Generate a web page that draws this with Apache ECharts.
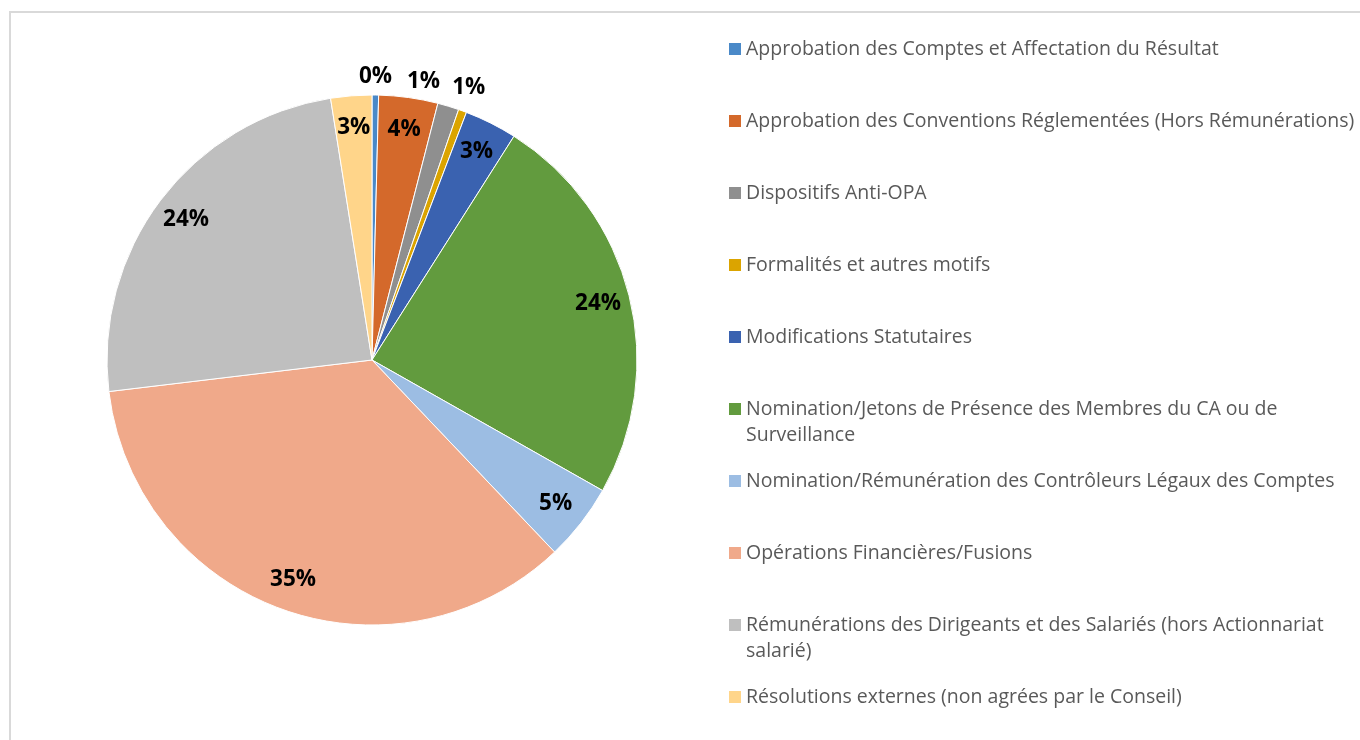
<!DOCTYPE html>
<html>
<head>
    <meta charset="UTF-8">
    <title>Répartition des résolutions</title>
    <script src="https://cdn.jsdelivr.net/npm/echarts@6/dist/echarts.min.js"></script>
    <style type="text/css">
        html, body, #main {
            height: 100%;
            width: 100%;
            margin: 0;
            padding: 0;
            background: #ffffff;
        }
    </style>
</head>
<body>
<div id="main"></div>
<script type="text/javascript">
    // catégories de résolutions (ordre Excel, sens horaire depuis midi)
    var categories = [
        'Approbation des Comptes et Affectation du Résultat',
        'Approbation des Conventions Réglementées (Hors Rémunérations)',
        'Dispositifs Anti-OPA',
        'Formalités et autres motifs',
        'Modifications Statutaires',
        'Nomination/Jetons de Présence des Membres du CA ou de Surveillance',
        'Nomination/Rémunération des Contrôleurs Légaux des Comptes',
        'Opérations Financières/Fusions',
        'Rémunérations des Dirigeants et des Salariés (hors Actionnariat salarié)',
        'Résolutions externes (non agrées par le Conseil)'
    ];
    // parts estimées (%)
    var shares = [0.4, 3.6, 1.3, 0.5, 3.2, 24.2, 4.7, 35.2, 24.4, 2.5];
    var colors = ['#4a89c8', '#d4692b', '#8f8f8f', '#dba400', '#3a62b0',
        '#629b3e', '#9cbde3', '#f0a98a', '#bfbfbf', '#ffd58a'];
    // petites parts dont l'étiquette est posée hors du camembert
    var outsideLabels = [
        'Approbation des Comptes et Affectation du Résultat',
        'Dispositifs Anti-OPA',
        'Formalités et autres motifs'
    ];
    // retours à la ligne de la légende
    var legendWrap = {
        'Nomination/Jetons de Présence des Membres du CA ou de Surveillance':
            'Nomination/Jetons de Présence des Membres du CA ou de\nSurveillance',
        'Rémunérations des Dirigeants et des Salariés (hors Actionnariat salarié)':
            'Rémunérations des Dirigeants et des Salariés (hors Actionnariat\nsalarié)'
    };
    // petits décalages d'étiquettes (comme le "meilleur ajustement" d'Excel)
    var labelNudge = {
        'Dispositifs Anti-OPA': [-30, -7],
        'Formalités et autres motifs': [0, -6]
    };

    var center = [372, 360];
    var R = 265;
    var labelFont = {fontFamily: 'Open Sans', fontWeight: 'bold', fontSize: 22.5, color: '#000000'};

    function pct(p) {
        return Math.round(p.percent) + '%';
    }

    function labelRing(inner, outer, outside) {
        return {
            type: 'pie',
            silent: true,
            center: center,
            radius: [inner, outer],
            startAngle: 90,
            clockwise: true,
            avoidLabelOverlap: false,
            tooltip: {show: false},
            emphasis: {disabled: true},
            labelLine: {show: false},
            itemStyle: {color: 'rgba(0,0,0,0)', borderWidth: 0},
            data: categories.map(function (n, i) {
                var isOut = outsideLabels.indexOf(n) >= 0;
                return {
                    name: n,
                    value: shares[i],
                    label: Object.assign({
                        show: isOut === outside,
                        position: 'inside',
                        formatter: pct,
                        offset: labelNudge[n] || [0, 0]
                    }, labelFont)
                };
            })
        };
    }

    var legends = categories.map(function (n, i) {
        var twoLines = !!legendWrap[n];
        return {
            orient: 'vertical',
            left: 729,
            top: 36 + 72 * i,
            padding: 0,
            itemWidth: 12,
            itemHeight: twoLines ? 38 : 12,
            // carré calé sur la première ligne pour les libellés sur deux lignes
            icon: twoLines ? 'path://M0,0H10V10H0Z M0,31.6H10V31.62H0Z' : 'rect',
            itemStyle: {borderWidth: 0},
            formatter: function (name) {
                return legendWrap[name] || name;
            },
            textStyle: {
                fontFamily: 'Open Sans',
                fontSize: 19.5,
                color: '#595959',
                lineHeight: 26
            },
            data: [{name: n, itemStyle: {color: colors[i]}}]
        };
    });

    var mycharts = echarts.init(document.getElementById('main'), null, {renderer: 'canvas'});
    var option = {
        animation: false,
        backgroundColor: '#ffffff',
        legend: legends,
        graphic: [{
            type: 'rect',
            shape: {x: 10, y: 12, width: 1400, height: 800},
            style: {fill: 'none', stroke: '#d9d9d9', lineWidth: 2},
            silent: true
        }],
        series: [{
            type: 'pie',
            name: 'Résolutions',
            center: center,
            radius: [0, R],
            startAngle: 90,
            clockwise: true,
            label: {show: false},
            labelLine: {show: false},
            emphasis: {scale: false},
            itemStyle: {borderColor: '#ffffff', borderWidth: 1},
            data: categories.map(function (n, i) {
                return {name: n, value: shares[i], itemStyle: {color: colors[i]}};
            })
        },
            labelRing(195, R, false),
            labelRing(R, R + 30, true)
        ]
    };
    mycharts.setOption(option);
</script>
</body>
</html>
